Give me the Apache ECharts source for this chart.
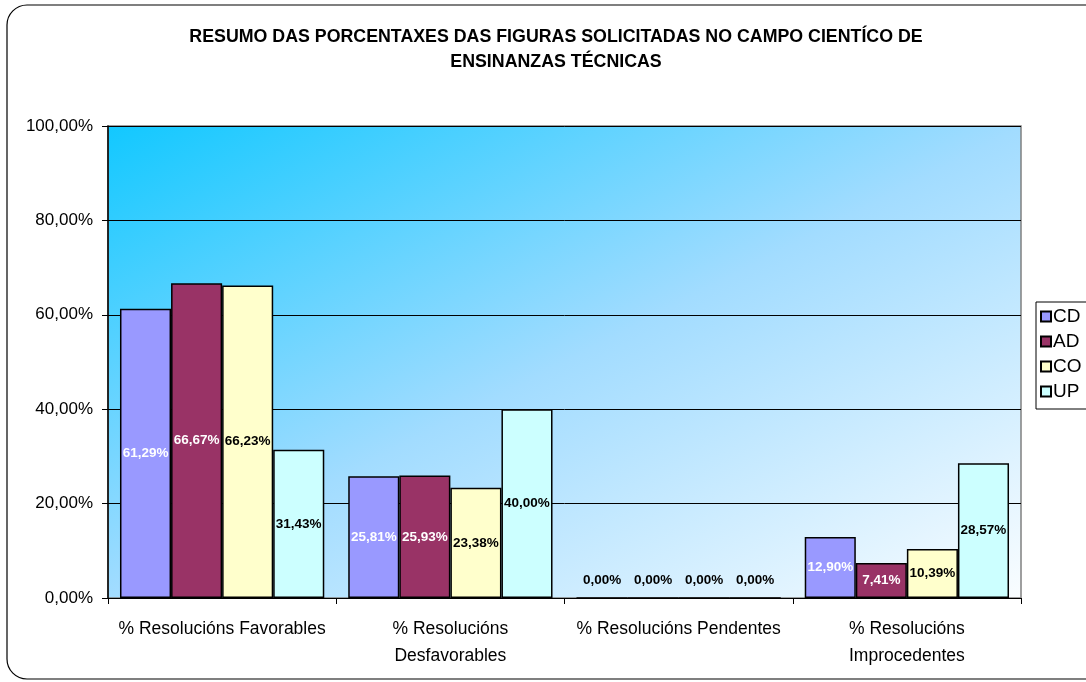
<!DOCTYPE html>
<html>
<head>
<meta charset="utf-8">
<script src="https://cdn.jsdelivr.net/npm/echarts@6/dist/echarts.min.js"></script>
<style>
    html, body {margin: 0; padding: 0; background: #fff;}
    #chart {width: 1086px; height: 682px;}
</style>
</head>
<body>
<div id="chart"></div>
<script>
const categories = ['% Resolucións Favorables', '% Resolucións\nDesfavorables', '% Resolucións Pendentes', '% Resolucións\nImprocedentes'];
const series_names = ['CD', 'AD', 'CO', 'UP'];
const cd_values = [61.29, 25.81, 0, 12.90];
const ad_values = [66.67, 25.93, 0, 7.41];
const co_values = [66.23, 23.38, 0, 10.39];
const up_values = [31.43, 40.00, 0, 28.57];
const y_ticks = [0, 20, 40, 60, 80, 100];

const series_colors = ['#9999FF', '#993366', '#FFFFCC', '#CCFFFF'];
const label_colors = ['#FFFFFF', '#FFFFFF', '#000000', '#000000'];

function pct(v) {
    return v.toFixed(2).replace('.', ',') + '%';
}

function make_series(name, values, idx) {
    return {
        name: name, type: 'bar', barGap: '0%', barCategoryGap: '10.5%',
        itemStyle: {color: series_colors[idx], borderColor: '#000', borderWidth: 1.5},
        label: {
            show: true, position: 'inside', color: label_colors[idx],
            fontFamily: 'Liberation Sans, Arial', fontWeight: 'bold', fontSize: 13.5,
            formatter: (p) => pct(p.value)
        },
        data: values.map((v) => {
            if (v === 0) {
                // Excel puts zero labels just above the axis
                return {value: v, label: {position: 'top', distance: 10, color: '#000'}};
            }
            return v;
        })
    };
}

let option = {
    animation: false,
    backgroundColor: '#fff',
    textStyle: {fontFamily: 'Liberation Sans, Arial'},
    title: {
        text: 'RESUMO DAS PORCENTAXES DAS FIGURAS SOLICITADAS NO CAMPO CIENTÍCO DE\nENSINANZAS TÉCNICAS',
        left: 551, top: 20, textAlign: 'center',
        textStyle: {fontSize: 17.8, fontWeight: 'bold', color: '#000', lineHeight: 25, fontFamily: 'Liberation Sans, Arial'}
    },
    graphic: [{
        type: 'rect', z: -10, silent: true,
        shape: {x: 7, y: 5, width: 1120, height: 674, r: 20},
        style: {fill: 'none', stroke: '#000', lineWidth: 1.2}
    }],
    legend: {
        orient: 'vertical', left: 1036, top: 302,
        data: series_names,
        icon: 'rect', itemWidth: 10, itemHeight: 10, itemGap: 6,
        borderColor: '#000', borderWidth: 1, padding: [5, 20, 8, 4],
        textStyle: {fontSize: 19, color: '#000', padding: [0, 0, 0, -3]}
    },
    grid: {
        left: 108, right: 65, top: 126, bottom: 84,
        show: true,
        borderColor: '#808080', borderWidth: 1.5,
        backgroundColor: {
            // isolines follow the box anti-diagonal, like the Excel fill
            type: 'linear', x: 0, y: 0, x2: 0.42, y2: 1.58,
            colorStops: [{offset: 0, color: '#12C8FF'}, {offset: 0.5, color: '#A2DCFF'}, {offset: 1, color: '#FAFDFF'}]
        }
    },
    xAxis: {
        type: 'category', data: categories,
        axisLine: {lineStyle: {color: '#000', width: 1}},
        axisTick: {show: true, length: 6, lineStyle: {color: '#000'}},
        axisLabel: {fontSize: 17.5, color: '#000', margin: 18, lineHeight: 27, interval: 0}
    },
    yAxis: {
        type: 'value', min: y_ticks[0], max: y_ticks[y_ticks.length - 1], interval: 20,
        axisLine: {show: true, lineStyle: {color: '#000', width: 1.5}},
        axisTick: {show: true, length: 6, lineStyle: {color: '#000'}},
        axisLabel: {fontSize: 17, color: '#000', margin: 15, formatter: (v) => pct(v)},
        splitLine: {show: true, lineStyle: {color: '#000', width: 1}}
    },
    series: [
        make_series(series_names[0], cd_values, 0),
        make_series(series_names[1], ad_values, 1),
        make_series(series_names[2], co_values, 2),
        make_series(series_names[3], up_values, 3)
    ]
};

let my_chart = echarts.init(document.getElementById('chart'));
my_chart.setOption(option);
</script>
</body>
</html>
